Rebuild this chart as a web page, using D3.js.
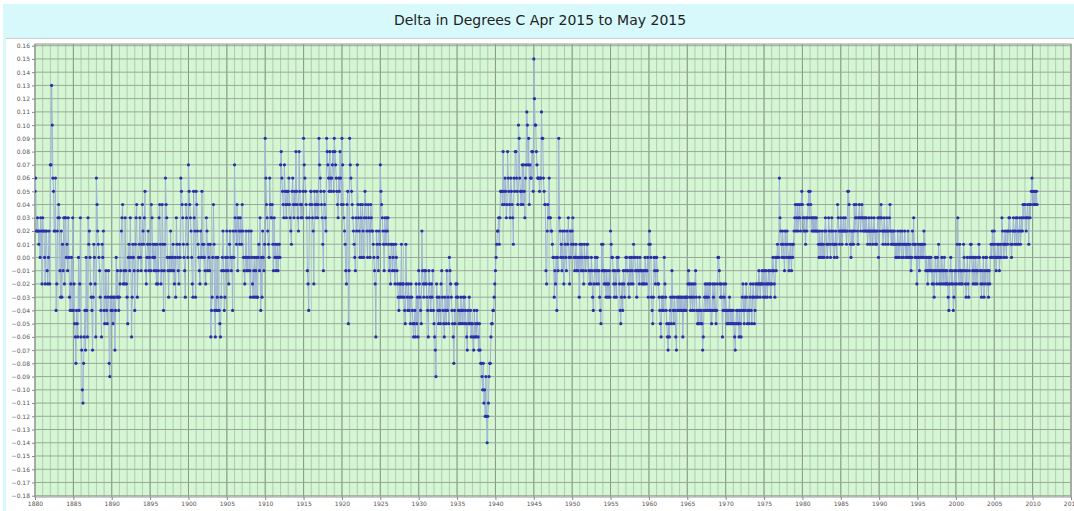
<!DOCTYPE html>
<html>
<head>
<meta charset="utf-8">
<script src="https://cdn.jsdelivr.net/npm/d3@7"></script>
<style>
  body { margin: 0; background: #fff; }
  svg { display: block; font-family: "DejaVu Sans", sans-serif; }
</style>
</head>
<body>
<svg id="chart" width="1074" height="511"></svg>
<script>
// Monthly deltas in hundredths of a degree, one row per year starting 1880
const startYear = 1880;
const deltas = [
  [5,6,2,2,3,2,1,2,0,3,2,-2],          // 1880
  [3,2,2,0,-2,2,2,-1,-2,0,2,-2],
  [7,7,13,10,6,5,2,2,6,-4,-2,2],
  [3,4,3,-1,-3,2,-3,1,-1,3,-2,3],
  [3,0,1,-1,3,0,-3,-4,-2,0,-4,3],
  [-4,-2,-5,-6,-8,-4,-5,-6,0,-4,-2,3], // 1885
  [-6,-7,-10,-11,-8,-6,-4,-7,0,-4,-6,3],
  [1,2,0,-2,-3,-4,-7,-3,1,0,-2,-6],
  [6,4,2,1,0,-1,-3,-4,-6,1,0,2],
  [-4,-5,-3,-1,-4,-5,-3,-1,-8,-9,-3,-4],
  [-3,-4,-5,-3,-3,-7,-4,0,-3,-1,-3,-4], // 1890
  [-3,-2,-1,2,3,4,-2,-1,-2,3,-1,-2],
  [-3,-5,0,1,-1,3,0,-6,-3,1,0,-1],
  [-4,1,3,4,-3,-1,0,1,3,0,-1,1],
  [4,2,1,3,5,-1,-2,0,1,2,-1,0],
  [1,-1,4,3,0,1,-1,0,1,-1,-2,1],       // 1895
  [-2,-1,3,4,1,-2,-1,4,1,-4,-1,1],
  [6,4,3,0,-1,-3,0,-1,2,0,-1,0],
  [1,-1,-2,0,-3,3,1,0,-1,-2,1,0],
  [6,5,4,3,1,0,-1,-3,4,3,1,0],
  [7,5,4,3,2,0,-2,-3,5,3,2,-3],        // 1900
  [5,4,2,1,0,-1,-2,2,0,5,1,0],
  [1,0,-1,-2,3,2,-1,1,0,-1,1,-6],
  [-4,-3,0,4,1,-4,-6,0,-4,-3,0,-4],
  [-4,-5,-6,-3,-1,0,2,-1,-4,-3,0,-1],
  [2,0,-1,-2,1,2,0,-1,0,-4,2,0],       // 1905
  [7,3,2,1,4,-1,3,2,1,3,2,1],
  [4,2,0,-1,-2,0,2,-1,0,-1,2,0],
  [-1,-3,2,0,-2,-3,-1,0,-3,-1,0,-3],
  [-3,0,1,-1,3,-4,0,-3,2,0,-1,1],
  [9,6,4,3,2,1,0,6,4,3,3,4],           // 1910
  [1,-1,3,0,1,-1,0,1,-1,0,1,0],
  [7,8,6,5,4,3,7,5,4,3,5,4],
  [5,6,4,3,2,1,5,6,4,3,5,4],
  [8,5,4,3,2,8,5,4,3,4,3,5],
  [9,7,6,5,4,3,-1,-2,-4,3,4,5],        // 1915
  [5,4,3,2,-2,5,4,3,4,5,3,4],
  [9,7,6,5,4,3,1,-1,5,4,3,2],
  [9,8,7,6,5,8,6,5,6,7,8,5],
  [9,8,7,6,5,4,3,6,5,8,6,4],
  [9,7,4,3,2,1,-1,-2,4,5,-5,-1],       // 1920
  [9,7,6,5,4,3,2,1,0,-1,3,2],
  [7,4,3,2,0,4,3,0,4,2,0,3],
  [5,4,3,2,0,4,3,2,0,4,3,2],
  [2,1,0,-1,-2,-6,2,1,0,-1,2,1],
  [7,5,4,3,2,1,-1,3,2,1,3,2],          // 1925
  [3,1,-1,0,-2,1,1,-1,0,1,-1,-2],
  [1,0,-1,-2,-3,-4,-2,-3,-2,1,-3,-2],
  [-2,-3,-4,-5,1,-2,-3,-4,-2,-4,-3,-5],
  [-2,-3,-4,-5,-6,-5,-4,-6,-2,-5,-3,-6],
  [-1,-2,-3,-4,-5,2,-1,-2,-3,-1,-2,-1], // 1930
  [-2,-3,-4,-6,-1,-2,-3,-4,-2,-3,-1,-4],
  [-5,-6,-7,-9,-2,-3,-4,-5,-3,-4,-5,-2],
  [-1,-3,-4,-5,-6,-3,-4,-5,-1,-4,-3,-5],
  [0,-1,-2,-3,-4,-5,-6,-8,-4,-5,-2,-3],
  [-2,-3,-4,-5,-4,-5,-3,-4,-5,-4,-3,-5], // 1935
  [-3,-4,-5,-6,-7,-4,-5,-3,-5,-4,-6,-5],
  [-5,-6,-7,-4,-6,-5,-6,-4,-5,-6,-7,-5],
  [-7,-8,-8,-9,-10,-8,-11,-10,-12,-9,-12,-14],
  [-12,-11,-9,-8,-8,-6,-5,-5,-4,-4,-3,-2],
  [-1,0,1,2,2,3,1,3,5,5,5,4],          // 1940
  [8,5,4,6,5,3,4,8,6,5,4,3],
  [6,5,4,3,1,6,5,8,8,6,5,4],
  [10,9,6,5,4,5,7,4,7,5,3,6],
  [7,11,10,7,9,4,7,6,6,8,8,5],
  [15,12,10,10,8,7,6,6,6,5,6,6],       // 1945
  [11,9,9,6,5,4,4,-1,-2,2,4,3],
  [6,3,3,2,2,1,0,0,-3,-1,-2,0],
  [-4,0,-1,9,3,2,0,1,-1,2,0,-2],
  [2,1,0,-1,2,1,3,0,-2,2,0,1],
  [2,3,1,0,-1,0,1,-1,0,-1,0,-3],       // 1950
  [1,0,-1,1,0,-1,-2,1,0,-1,0,1],
  [1,0,-1,-2,-1,-2,0,-1,-3,-4,-2,-1],
  [0,-1,-2,0,-1,-2,-1,-3,-4,-5,1,-1],
  [1,-1,-2,-1,-2,-3,-1,-2,-3,-2,-1,-3],
  [2,1,0,0,-1,-2,-3,-1,-2,-3,0,-1],    // 1955
  [0,-1,-2,-4,-5,-3,-2,-4,-1,-2,-3,-1],
  [0,0,-1,-1,-2,-3,0,-1,-2,0,-1,-2],
  [1,0,0,-1,-1,-3,0,-1,-1,-2,0,-1],
  [-1,-2,-1,-2,-1,-2,0,-1,-2,-1,0,-3],
  [1,2,1,0,-3,-4,-5,-3,0,-1,-2,0],     // 1960
  [0,-1,-2,-2,-3,-4,-5,-6,-3,-4,-3,-4],
  [0,-2,-3,-4,-5,-6,-7,-5,-6,-4,-3,-5],
  [-1,-3,-4,-5,-3,-4,-6,-7,-3,-4,-3,-4],
  [-3,-4,-3,-4,-3,-6,-4,-3,-4,-3,-4,-3],
  [-3,-2,-1,-2,-3,-4,-2,-3,-4,-2,-3,-4], // 1965
  [-2,-1,-3,-4,-5,-4,-5,-3,-4,-5,-4,-5],
  [-7,-6,-4,-3,-2,-4,-3,-2,-4,-3,-2,-4],
  [-2,-4,-5,-4,-2,-3,-4,-2,-4,-5,-4,-2],
  [0,0,-1,-2,-3,-2,-3,-6,-4,-2,-3,-4],
  [-2,-4,-5,-4,-5,-4,-3,-5,-4,-5,-4,-5], // 1970
  [-4,-5,-6,-7,-5,-4,-5,-4,-5,-6,-4,-5],
  [-6,-4,-3,-2,-4,-5,-3,-4,-2,-3,-5,-4],
  [-4,-5,-3,-2,-4,-5,-3,-2,-3,-5,-4,-2],
  [-3,-2,-3,-2,-1,-2,-3,-2,-2,-1,-2,-3],
  [-1,-2,-3,-1,-2,-3,-2,-1,-2,-1,-3,-2], // 1975
  [-2,-1,0,-1,-2,-3,0,-1,0,1,0,0],
  [6,3,2,1,0,2,1,0,-1,2,1,0],
  [2,1,0,-1,0,1,0,-1,1,0,1,2],
  [3,4,2,3,4,2,3,4,3,2,4,5],
  [4,3,2,3,2,1,3,2,3,4,5,3],           // 1980
  [5,4,3,2,3,2,3,2,3,2,3,2],
  [2,1,0,2,1,0,1,2,0,1,0,2],
  [3,2,1,0,1,3,2,1,0,2,3,1],
  [2,1,0,1,2,1,0,4,3,2,1,2],
  [3,2,1,2,3,2,2,3,2,1,2,5],           // 1985
  [5,4,2,1,0,2,1,2,1,4,2,3],
  [4,3,2,1,3,4,3,2,3,4,3,2],
  [3,2,3,2,3,2,1,2,3,2,1,2],
  [3,2,1,2,3,2,1,2,1,2,3,0],
  [3,2,3,4,3,2,1,2,3,2,1,2],           // 1990
  [3,2,1,2,3,4,2,1,2,1,2,1],
  [2,1,0,1,0,2,1,0,1,2,1,0],
  [2,1,0,1,2,1,0,1,0,2,1,0],
  [1,0,-1,0,2,1,3,1,0,1,0,-2],
  [0,1,0,-1,1,0,1,0,1,0,2,1],          // 1995
  [0,-1,0,-1,-2,0,-1,0,-1,0,-1,-2],
  [-1,-2,-3,-1,0,-1,-2,0,-1,1,-2,-1],
  [-1,-2,0,-1,-2,-1,0,-2,-1,-2,-1,-2],
  [-3,-4,-2,-1,0,-2,-1,-2,-4,-3,-1,-2],
  [-1,-2,1,3,-1,-2,1,-1,-2,-1,-2,-1],  // 2000
  [1,0,-1,-2,-3,-1,0,-2,-3,-1,0,1],
  [1,0,-1,-2,0,-1,-2,0,-1,-2,-1,0],
  [1,0,-1,-2,-3,-1,-2,0,-3,-1,-2,0],
  [0,-1,-2,-3,-1,-2,0,1,0,2,1,0],
  [2,1,0,-1,0,1,0,1,-1,0,1,0],         // 2005
  [3,2,1,0,1,2,1,0,2,1,2,3],
  [3,2,1,0,1,2,3,2,1,2,3,1],
  [3,2,1,2,3,1,2,3,2,4,3,4],
  [4,3,2,3,4,3,1,4,3,4,5,6],
  [5,4,5,4,5,4,5,4]                    // 2010
];

const yTickValues = d3.range(-18, 17).map((d) => d / 100);
const xTickValues = d3.range(1880, 2016, 5);
const xMinorValues = d3.range(1880, 2016, 1);
const title = "Delta in Degrees C Apr 2015 to May 2015";

const points = [];
deltas.forEach((row, i) => {
  row.forEach((v, m) => {
    points.push({ t: startYear + i + m / 12, v: v / 100 });
  });
});

const svg = d3.select("#chart");
const plot = { left: 35, right: 1071, top: 44, bottom: 497 };

const x = d3.scaleLinear().domain([1880, 2015]).range([plot.left, plot.right]);
const y = d3.scaleLinear().domain([-0.18, 0.16]).range([495.7, 45.7]);

// title band
svg.append("rect").attr("x", 3).attr("y", 4).attr("width", 1071).attr("height", 34).attr("fill", "#d7f9fc");
svg.append("line").attr("x1", 3).attr("x2", 1074).attr("y1", 38.5).attr("y2", 38.5).attr("stroke", "#c8d0d0");
svg.append("rect").attr("x", 3).attr("y", 38).attr("width", 3).attr("height", 473).attr("fill", "#d7f9fc");
svg.append("text")
  .attr("x", 540).attr("y", 25)
  .attr("text-anchor", "middle")
  .attr("font-size", 14)
  .attr("fill", "#222")
  .text(title);

// plot background
svg.append("rect")
  .attr("x", plot.left).attr("y", plot.top)
  .attr("width", plot.right - plot.left).attr("height", plot.bottom - plot.top)
  .attr("fill", "#d5f6d3");

const grid = svg.append("g");
grid.selectAll(".vminor").data(xMinorValues).enter().append("line")
  .attr("x1", (d) => x(d)).attr("x2", (d) => x(d))
  .attr("y1", plot.top).attr("y2", plot.bottom)
  .attr("stroke", "#b3c8b3").attr("stroke-width", 1);
grid.selectAll(".vmajor").data(xTickValues).enter().append("line")
  .attr("x1", (d) => x(d)).attr("x2", (d) => x(d))
  .attr("y1", plot.top).attr("y2", plot.bottom)
  .attr("stroke", "#8c9a8c").attr("stroke-width", 1);
grid.selectAll(".h").data(yTickValues).enter().append("line")
  .attr("x1", plot.left).attr("x2", plot.right)
  .attr("y1", (d) => y(d)).attr("y2", (d) => y(d))
  .attr("stroke", "#98a898").attr("stroke-width", 1);

// border
svg.append("rect")
  .attr("x", plot.left).attr("y", plot.top)
  .attr("width", plot.right - plot.left).attr("height", plot.bottom - plot.top)
  .attr("fill", "none").attr("stroke", "#999");

// axes
const yAxis = svg.append("g")
  .attr("transform", `translate(${plot.left},0)`)
  .call(d3.axisLeft(y).tickValues(yTickValues).tickFormat(d3.format(".2f")).tickSize(3).tickPadding(2));
const xAxis = svg.append("g")
  .attr("transform", `translate(0,${plot.bottom})`)
  .call(d3.axisBottom(x).tickValues(xTickValues).tickFormat(d3.format("d")).tickSize(3).tickPadding(2));
[yAxis, xAxis].forEach((g) => {
  g.select(".domain").remove();
  g.selectAll("line").attr("stroke", "#888");
  g.selectAll("text").attr("font-size", 6).attr("fill", "#555").attr("font-family", "DejaVu Sans");
});

// series
const clip = svg.append("clipPath").attr("id", "clip").append("rect")
  .attr("x", plot.left).attr("y", plot.top)
  .attr("width", plot.right - plot.left).attr("height", plot.bottom - plot.top);
const series = svg.append("g").attr("clip-path", "url(#clip)");

series.append("path")
  .datum(points)
  .attr("fill", "none")
  .attr("stroke", "#9db4d4")
  .attr("stroke-width", 1)
  .attr("d", d3.line().x((d) => x(d.t)).y((d) => y(d.v)));

series.selectAll("circle").data(points).enter().append("circle")
  .attr("cx", (d) => x(d.t))
  .attr("cy", (d) => y(d.v))
  .attr("r", 1.6)
  .attr("fill", "#2a2fa6");
</script>
</body>
</html>
